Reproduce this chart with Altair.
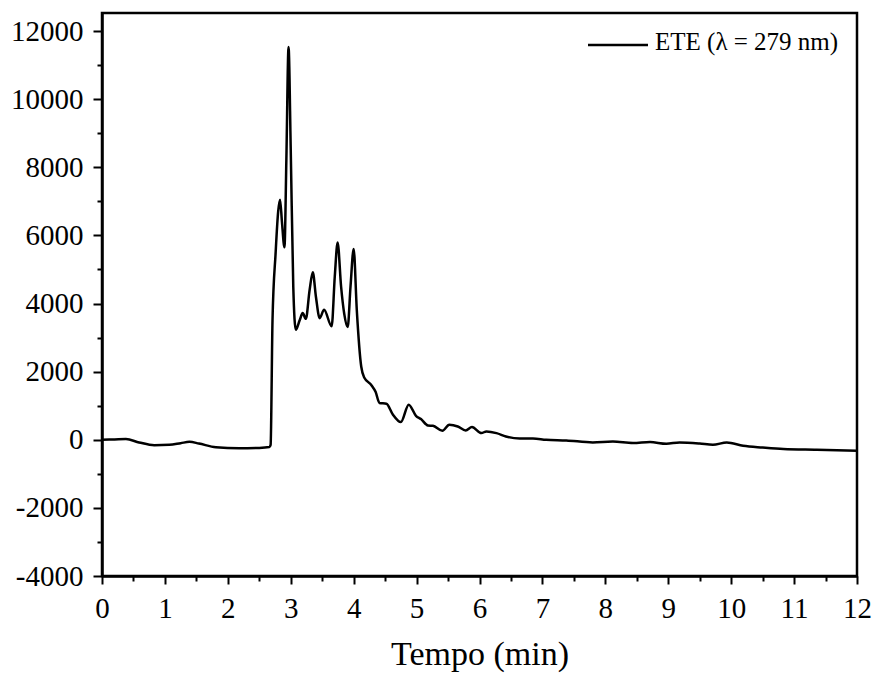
import altair as alt
import pandas as pd

# Chromatogram trace (time in min, signal)
tempo = [0, 0.2, 0.38, 0.59, 0.83, 1.07, 1.25, 1.39, 1.54, 1.81, 2.18, 2.5, 2.66, 2.68,
         2.71, 2.76, 2.80, 2.83, 2.86, 2.90, 2.93, 2.965, 3.0, 3.04, 3.08, 3.14, 3.19,
         3.24, 3.30, 3.35, 3.40, 3.46, 3.53, 3.65, 3.70, 3.745, 3.80, 3.85, 3.905, 3.95,
         4.0, 4.05, 4.12, 4.17, 4.28, 4.35, 4.41, 4.52, 4.62, 4.75, 4.875, 4.99, 5.07,
         5.18, 5.26, 5.41, 5.52, 5.655, 5.78, 5.88, 6.03, 6.11, 6.27, 6.42, 6.64, 6.85,
         7.06, 7.38, 7.80, 8.12, 8.44, 8.71, 8.97, 9.18, 9.5, 9.71, 9.93, 10.19, 10.5,
         10.83, 11.36, 12.0]
sinal = [0, 10, 20, -78, -160, -150, -100, -60, -110, -220, -250, -240, -215, -150,
         3500, 5500, 6700, 7050, 6400, 5650, 8200, 11530, 8500, 4500, 3230, 3500, 3720,
         3550, 4400, 4920, 4200, 3570, 3820, 3330, 4800, 5790, 4500, 3700, 3310, 4500,
         5600, 3800, 2150, 1820, 1610, 1400, 1080, 1060, 750, 520, 1030, 705, 607,
         420, 410, 264, 440, 390, 273, 372, 196, 245, 196, 97, 38, 38,
         0, -20, -78, -50, -98, -68, -117, -78, -110, -147, -78, -176, -230,
         -274, -294, -320]

x_major = list(range(0, 13))
x_minor = [i + 0.5 for i in range(12)]
y_major = list(range(-4000, 12001, 2000))
y_minor = list(range(-3000, 11001, 2000))
legend_label = "ETE (λ = 279 nm)"

df = pd.DataFrame({"t": tempo, "s": sinal})

FONT = "Liberation Serif"
xscale = alt.Scale(domain=[0, 12], nice=False, zero=False)
yscale = alt.Scale(domain=[-4000, 12530], nice=False, zero=False)

line = alt.Chart(df).mark_line(color="black", strokeWidth=2.5, interpolate="monotone").encode(
    x=alt.X("t:Q", scale=xscale,
            axis=alt.Axis(values=x_major, title="Tempo (min)", orient="bottom",
                          labelExpr="'' + datum.value",
                          tickSize=8, tickWidth=2, tickColor="black",
                          domainColor="black", domainWidth=2.5,
                          labelFont=FONT, labelFontSize=29, labelColor="black",
                          labelPadding=10, labelFlush=False,
                          titleFont=FONT, titleFontSize=34, titleFontWeight="normal",
                          titleColor="black", titlePadding=14, grid=False)),
    y=alt.Y("s:Q", scale=yscale,
            axis=alt.Axis(values=y_major, title=None, orient="left",
                          labelExpr="'' + datum.value",
                          tickSize=9, tickWidth=2, tickColor="black",
                          domainColor="black", domainWidth=2.5,
                          labelFont=FONT, labelFontSize=29, labelColor="black",
                          labelPadding=10, labelFlush=False, grid=False)),
)

minor_x = alt.Chart(pd.DataFrame({"t": x_minor})).mark_point(opacity=0).encode(
    x=alt.X("t:Q", scale=xscale,
            axis=alt.Axis(values=x_minor, labels=False, title=None, domain=False,
                          orient="bottom",
                          tickSize=5, tickWidth=2, tickColor="black", grid=False)),
)
minor_y = alt.Chart(pd.DataFrame({"s": y_minor})).mark_point(opacity=0).encode(
    y=alt.Y("s:Q", scale=yscale,
            axis=alt.Axis(values=y_minor, labels=False, title=None, domain=False,
                          orient="left",
                          tickSize=5, tickWidth=2, tickColor="black", grid=False)),
)

leg_line = alt.Chart(pd.DataFrame({"k": [legend_label]})).mark_rule(
    color="black", strokeWidth=2.5).encode(
    x=alt.value(486), x2=alt.value(546), y=alt.value(32))
leg_text = alt.Chart(pd.DataFrame({"k": [legend_label]})).mark_text(
    align="left", baseline="alphabetic", font=FONT, fontSize=25, color="black").encode(
    x=alt.value(553), y=alt.value(37), text="k:N")

chart = alt.layer(line, minor_x, minor_y, leg_line, leg_text).resolve_axis(
    x="independent", y="independent"
).properties(
    width=755, height=563,
    background="white",
    autosize=alt.AutoSizeParams(type="none"),
    padding={"left": 102, "top": 13, "right": 17, "bottom": 101},
).configure_view(stroke="black", strokeWidth=2.5)

chart.save("out.html", embed_options={"renderer": "svg", "actions": False})
